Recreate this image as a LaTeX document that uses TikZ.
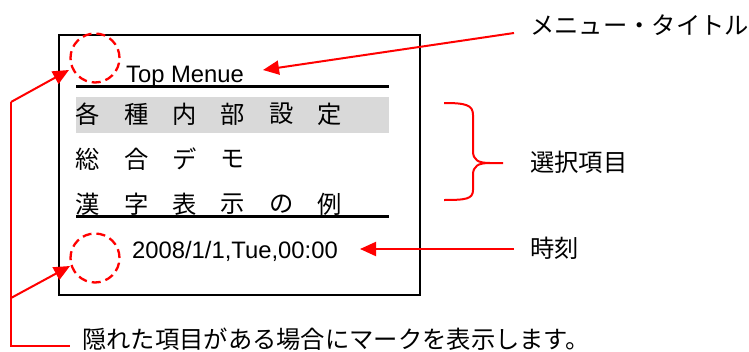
\documentclass[tikz,border=0pt]{standalone}
\usepackage{fontspec}
\setmainfont{Liberation Sans}
\newfontfamily\jpfont{Noto Sans CJK JP}
\usetikzlibrary{arrows.meta}
\definecolor{callred}{RGB}{255,0,0}
\definecolor{bandgray}{RGB}{217,217,217}
\tikzset{
  lat/.style={inner sep=0pt, font=\fontsize{23.8}{28}\selectfont},
  jp/.style={inner sep=0pt, font=\jpfont\fontsize{24.3}{28}\selectfont},
  callout/.style={draw=callred, line width=2pt},
  callarrow/.style={callout, -{Triangle[length=16pt,width=14pt]}},
  marker/.style={draw=callred, line width=2.3pt, dash pattern=on 9pt off 5pt, circle, minimum size=49pt, inner sep=0pt},
  rule/.style={draw=black, line width=3pt},
}
\begin{document}
\begin{tikzpicture}[x=1pt,y=-1pt]
\useasboundingbox (0,0) rectangle (749,351);
% screen frame
\node[draw=black, line width=2pt, minimum width=361pt, minimum height=260pt, inner sep=0pt, anchor=north west] (screen) at (58,34) {};
% selection band
\fill[bandgray] (76,97) rectangle (389,133);
% title
\node[lat, anchor=base west] (title) at (126,82) {Top Menue};
\coordinate (r1a) at (76,86);
\coordinate (r1b) at (389,86);
\draw[rule] (r1a) -- (r1b);
% menu rows
\foreach \c [count=\i from 0] in {各,種,内,部,設,定}
  \node[jp] (a\i) at (88+48.3*\i,114) {\c};
\foreach \c [count=\i from 0] in {総,合,デ,モ}
  \node[jp] (b\i) at (88+48.3*\i,159) {\c};
\foreach \c [count=\i from 0] in {漢,字,表,示,の,例}
  \node[jp] (c\i) at (88+48.3*\i,204) {\c};
\coordinate (r2a) at (76,216);
\coordinate (r2b) at (389,216);
\draw[rule] (r2a) -- (r2b);
% date
\node[lat, anchor=base west] (date) at (132,258) {2008/1/1,Tue,00:00};
% marker circles
\node[marker] (m1) at (95,58) {};
\node[marker] (m2) at (95,258) {};
% labels
\node[jp, anchor=west] (ltitle) at (530,25) {メニュー・タイトル};
\node[jp, anchor=west] (lsel) at (530,162) {選択項目};
\node[jp, anchor=west] (ltime) at (530,248) {時刻};
\node[jp, anchor=west] (lmark) at (82,339) {隠れた項目がある場合にマークを表示します。};
% callouts
\coordinate (ct) at (514,33);
\coordinate (ctip) at (263,70);
\draw[callarrow] (ct) -- (ctip);
\coordinate (cd) at (514,249);
\coordinate (cdtip) at (360,249);
\draw[callarrow] (cd) -- (cdtip);
% brace
\draw[callout, line join=round] (444,103) .. controls (466,103) and (473,105) .. (473,115)
  -- (473,151) .. controls (473,160) and (478,163) .. (490,163) -- (503,163);
\draw[callout, line join=round] (490,163) .. controls (478,163) and (473,166) .. (473,175)
  -- (473,190) .. controls (473,199) and (466,200) .. (444,200);
% left bracket to markers
\coordinate (v1) at (11,102);
\coordinate (v2) at (11,298);
\coordinate (vb) at (11,346);
\coordinate (hb) at (70,346);
\coordinate (t1) at (69,70);
\coordinate (t2) at (70,266);
\draw[callout] (v1) -- (vb) -- (hb);
\draw[callarrow] (v1) -- (t1);
\draw[callarrow] (v2) -- (t2);
\end{tikzpicture}
\end{document}
